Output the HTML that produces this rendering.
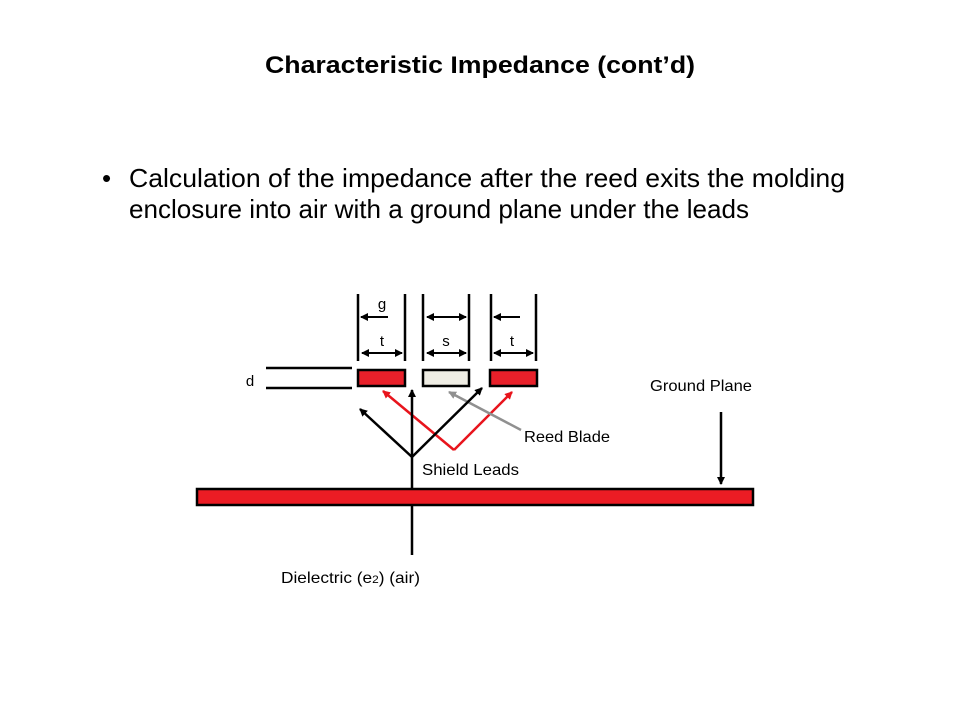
<!DOCTYPE html>
<html><head><style>
body{margin:0;background:#fff;}
svg{display:block}
text{font-family:"Liberation Sans",Arial,sans-serif;}
</style></head><body>
<svg width="960" height="720" viewBox="0 0 960 720">
<defs>
<marker id="ab" markerWidth="8" markerHeight="8" refX="7" refY="4" orient="auto" markerUnits="userSpaceOnUse"><path d="M0,0 L8,4 L0,8 Z" fill="#000"/></marker>
<marker id="ar" markerWidth="8" markerHeight="8" refX="7" refY="4" orient="auto" markerUnits="userSpaceOnUse"><path d="M0,0 L8,4 L0,8 Z" fill="#e8141c"/></marker>
<marker id="ag" markerWidth="8" markerHeight="8" refX="7" refY="4" orient="auto" markerUnits="userSpaceOnUse"><path d="M0,0 L8,4 L0,8 Z" fill="#909090"/></marker>
<marker id="abs" markerWidth="8" markerHeight="8" refX="1" refY="4" orient="auto" markerUnits="userSpaceOnUse"><path d="M8,0 L0,4 L8,8 Z" fill="#000"/></marker>
</defs>
<text x="265" y="73" font-size="24" font-weight="bold" textLength="430" lengthAdjust="spacingAndGlyphs">Characteristic Impedance (cont’d)</text>
<text x="102" y="187" font-size="26">•</text>
<text x="129" y="187" font-size="26" textLength="716" lengthAdjust="spacingAndGlyphs">Calculation of the impedance after the reed exits the molding</text>
<text x="129" y="218" font-size="26" textLength="620" lengthAdjust="spacingAndGlyphs">enclosure into air with a ground plane under the leads</text>
<g stroke="#000" stroke-width="2.5" fill="none">
<line x1="358" y1="294" x2="358" y2="361"/><line x1="405" y1="294" x2="405" y2="361"/>
<line x1="423" y1="294" x2="423" y2="361"/><line x1="469" y1="294" x2="469" y2="361"/>
<line x1="491" y1="294" x2="491" y2="361"/><line x1="536" y1="294" x2="536" y2="361"/>
<line x1="266" y1="368" x2="352" y2="368"/><line x1="266" y1="388" x2="352" y2="388"/>
</g>
<g stroke="#000" stroke-width="2" fill="none">
<line x1="388" y1="317" x2="361" y2="317" marker-end="url(#ab)"/>
<line x1="427" y1="317" x2="466" y2="317" marker-end="url(#ab)" marker-start="url(#abs)"/>
<line x1="520" y1="317" x2="494" y2="317" marker-end="url(#ab)"/>
<line x1="362" y1="353" x2="402" y2="353" marker-end="url(#ab)" marker-start="url(#abs)"/>
<line x1="427" y1="353" x2="466" y2="353" marker-end="url(#ab)" marker-start="url(#abs)"/>
<line x1="494" y1="353" x2="533" y2="353" marker-end="url(#ab)" marker-start="url(#abs)"/>
</g>
<text x="382" y="309" font-size="15" text-anchor="middle">g</text>
<text x="382" y="346" font-size="15" text-anchor="middle">t</text>
<text x="446" y="346" font-size="15" text-anchor="middle">s</text>
<text x="512" y="346" font-size="15" text-anchor="middle">t</text>
<text x="250" y="386" font-size="15" text-anchor="middle">d</text>
<rect x="358" y="370" width="47" height="16" fill="#e8202a" stroke="#000" stroke-width="2.5"/>
<rect x="423" y="370" width="46" height="16" fill="#efede4" stroke="#000" stroke-width="2.5"/>
<rect x="490" y="370" width="47" height="16" fill="#e8202a" stroke="#000" stroke-width="2.5"/>
<g stroke="#e8141c" stroke-width="2.5" fill="none">
<line x1="454" y1="450" x2="383" y2="391" marker-end="url(#ar)"/>
<line x1="454" y1="450" x2="512" y2="392" marker-end="url(#ar)"/>
</g>
<line x1="521" y1="430" x2="449" y2="392" stroke="#909090" stroke-width="2.5" marker-end="url(#ag)"/>
<g stroke="#000" stroke-width="2.5" fill="none">
<line x1="412" y1="457" x2="360" y2="409" marker-end="url(#ab)"/>
<line x1="412" y1="457" x2="412" y2="390" marker-end="url(#ab)"/>
<line x1="412" y1="457" x2="482" y2="388" marker-end="url(#ab)"/>
<line x1="412" y1="457" x2="412" y2="555"/>
<line x1="721" y1="412" x2="721" y2="484" marker-end="url(#ab)"/>
</g>
<text x="524" y="442" font-size="16" textLength="86" lengthAdjust="spacingAndGlyphs">Reed  Blade</text>
<text x="422" y="475" font-size="16" textLength="97" lengthAdjust="spacingAndGlyphs">Shield  Leads</text>
<text x="650" y="391" font-size="16" textLength="102" lengthAdjust="spacingAndGlyphs">Ground  Plane</text>
<rect x="197" y="489" width="556" height="16" fill="#ec1c24" stroke="#000" stroke-width="2.5"/>
<text x="281" y="583" font-size="16" textLength="139" lengthAdjust="spacingAndGlyphs">Dielectric  (e<tspan font-size="11">2</tspan>) (air)</text>
</svg>
</body></html>
